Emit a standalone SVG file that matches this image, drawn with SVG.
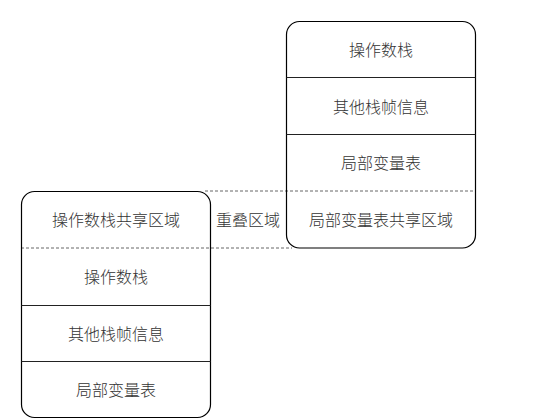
<svg xmlns="http://www.w3.org/2000/svg" width="533" height="420" viewBox="0 0 533 420">
<style>
.box{fill:none;stroke:#000;stroke-width:1.2}
.div{stroke:#222;stroke-width:1.2}
.dash{stroke:#666;stroke-width:1;stroke-dasharray:3 2;fill:none}
text{font-family:"Noto Sans CJK SC","Noto Sans",sans-serif;font-size:16px;font-weight:300;fill:#333;text-anchor:middle;dominant-baseline:central}
</style>
<rect width="533" height="420" fill="#fff"/>
<g id="connectors">
<line class="dash" x1="205" y1="191" x2="475" y2="191"/>
<line class="dash" x1="21" y1="248" x2="292" y2="248"/>
</g>
<g id="frame-right">
<rect class="box" x="286.5" y="21.5" width="189" height="226.5" rx="13"/>
<line class="div" x1="286.5" y1="77.5" x2="475.5" y2="77.5"/>
<line class="div" x1="286.5" y1="134.5" x2="475.5" y2="134.5"/>
<text x="381" y="49">操作数栈</text>
<text x="381" y="106">其他栈帧信息</text>
<text x="381" y="162">局部变量表</text>
<text x="381" y="219">局部变量表共享区域</text>
</g>
<g id="frame-left">
<rect class="box" x="21.5" y="191.5" width="189" height="226" rx="13"/>
<line class="div" x1="21.5" y1="305.5" x2="210.5" y2="305.5"/>
<line class="div" x1="21.5" y1="361.5" x2="210.5" y2="361.5"/>
<text x="116" y="219">操作数栈共享区域</text>
<text x="116" y="276">操作数栈</text>
<text x="116" y="333">其他栈帧信息</text>
<text x="116" y="389">局部变量表</text>
</g>
<g id="overlap-label">
<text x="248" y="219">重叠区域</text>
</g>
</svg>
